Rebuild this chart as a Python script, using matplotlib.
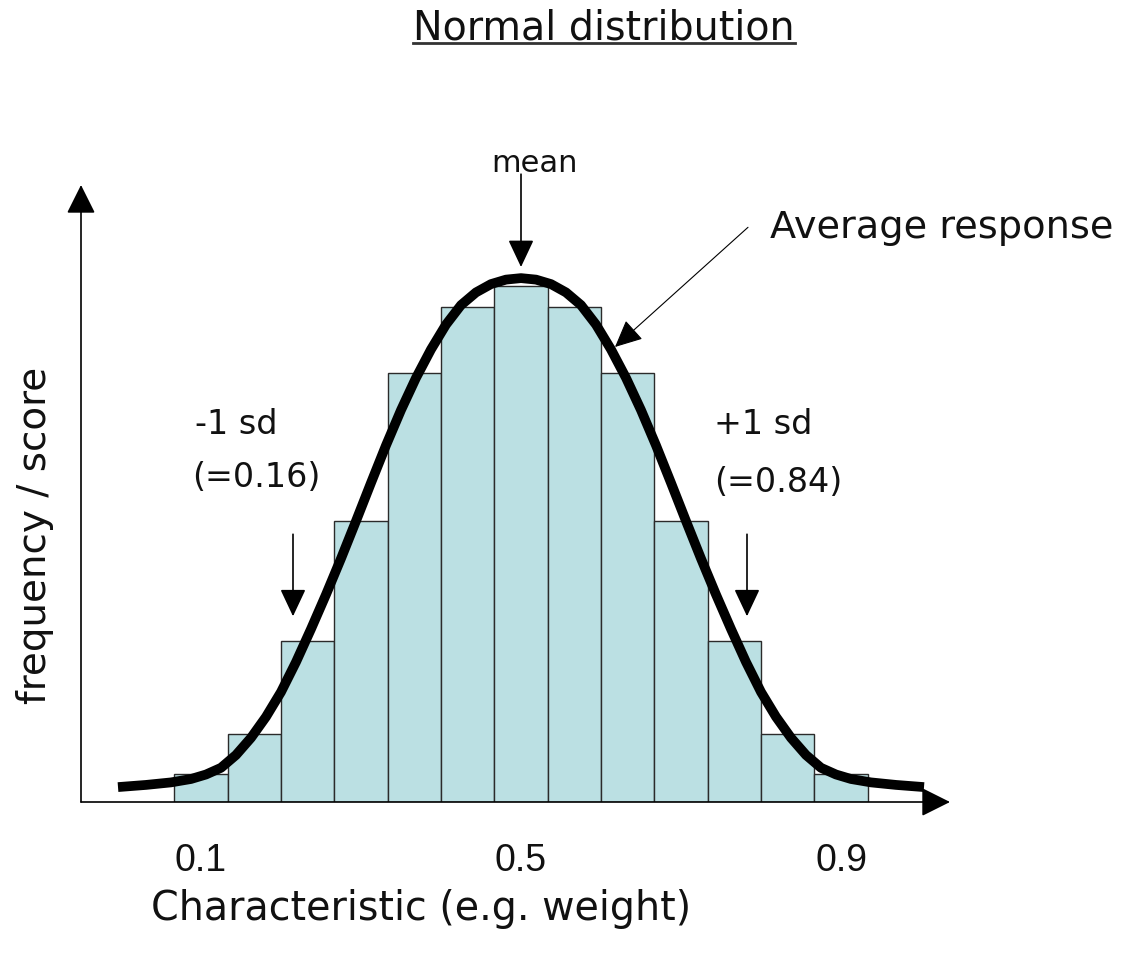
import matplotlib
matplotlib.use("Agg")
import matplotlib.pyplot as plt
from matplotlib.lines import Line2D

# ---------------- data ----------------
bin_centers = [0.100, 0.1667, 0.2333, 0.300, 0.3667, 0.4333, 0.500,
               0.5667, 0.6333, 0.700, 0.7667, 0.8333, 0.900]
bin_width = 0.0667
frequencies = [5.4, 13.2, 31.2, 54.5, 83.1, 95.9, 100.0,
               95.9, 83.1, 54.5, 31.2, 13.2, 5.4]

# "Average response" curve
curve_x = [-0.00375, 0.03125, 0.0625, 0.0875, 0.10625, 0.125, 0.14375,
           0.1625, 0.18125, 0.2, 0.21875, 0.2375, 0.25625, 0.275, 0.29375,
           0.3125, 0.33125, 0.35, 0.36875, 0.3875, 0.40625, 0.425, 0.44375,
           0.4625, 0.48125, 0.5,
           0.51875, 0.5375, 0.55625, 0.575, 0.59375, 0.6125, 0.63125, 0.65,
           0.66875, 0.6875, 0.70625, 0.725, 0.74375, 0.7625, 0.78125, 0.8,
           0.81875, 0.8375, 0.85625, 0.875, 0.89375, 0.9125, 0.9375, 0.96875,
           1.00375]
curve_y = [2.89, 3.31, 3.80, 4.46, 5.33, 6.63, 9.11,
           12.44, 16.51, 21.32, 27.13, 33.53, 40.21, 47.19, 54.46,
           61.86, 69.13, 75.97, 82.21, 87.73, 92.54, 96.32, 98.78,
           100.39, 101.26, 101.55,
           101.26, 100.39, 98.78, 96.32, 92.54, 87.73, 82.21, 75.97,
           69.13, 61.86, 54.46, 47.19, 40.21, 33.53, 27.13, 21.32,
           16.51, 12.44, 9.11, 6.63, 5.33, 4.46, 3.80, 3.31,
           2.89]

tick_values = [0.1, 0.5, 0.9]
tick_labels = ["0.1", "0.5", "0.9"]

title_text = "Normal distribution"
x_label = "Characteristic (e.g. weight)"
y_label = "frequency / score"

# ---------------- figure ----------------
W, H = 1125, 954
fig = plt.figure(figsize=(W / 100, H / 100), dpi=100)
fig.patch.set_facecolor("white")
plt.rcParams['font.family'] = ['DejaVu Sans']

ax = fig.add_axes([81 / W, 151 / H, 869 / W, 617 / H])
ax.set_xlim(-0.05, 1.03625)
ax.set_ylim(0, 119.6)
for s in ax.spines.values():
    s.set_visible(False)
ax.set_yticks([])
ax.set_xticks(tick_values)
ax.set_xticklabels(tick_labels, fontsize=27, color="#111111",
                   family=["Liberation Sans", "DejaVu Sans"])
ax.tick_params(axis="x", length=0, pad=29)

# bars
ax.bar(bin_centers, frequencies, width=bin_width, color="#BBE0E3",
       edgecolor="#2b2b2b", linewidth=1.0, zorder=2)

# curve
ax.plot(curve_x, curve_y, color="black", linewidth=7, zorder=3,
        solid_capstyle="butt", solid_joinstyle="round", clip_on=False)

# axes arrows
axis_arrow = dict(arrowstyle="-|>,head_length=0.9,head_width=0.45",
                  mutation_scale=20, color="black", linewidth=1.2,
                  shrinkA=0, shrinkB=0)
ax.annotate("", xy=(1, 0), xytext=(0, 0), xycoords="axes fraction",
            textcoords="axes fraction", arrowprops=axis_arrow,
            annotation_clip=False, zorder=4)
ax.annotate("", xy=(0, 1), xytext=(0, 0), xycoords="axes fraction",
            textcoords="axes fraction", arrowprops=axis_arrow,
            annotation_clip=False, zorder=4)

# labels
ax.set_xlabel(x_label, fontsize=28.5, color="#111111")
ax.xaxis.set_label_coords((421 - 81) / 869, -(909 - 803) / 617)
ax.xaxis.label.set_va("center")
ax.set_ylabel(y_label, fontsize=28, color="#111111", va="center", ha="center")
ax.yaxis.set_label_coords((35 - 81) / 869, (803 - 535) / 617)

# annotation arrows
small_arrow = dict(arrowstyle="-|>,head_length=0.85,head_width=0.4",
                   mutation_scale=20, color="black", linewidth=1.2,
                   shrinkA=0, shrinkB=0)
ax.annotate("", xy=(0.5, 103.7), xytext=(0.5, 121.7), arrowprops=small_arrow,
            annotation_clip=False)
ax.annotate("", xy=(0.215, 36.0), xytext=(0.215, 51.9), arrowprops=small_arrow,
            annotation_clip=False)
ax.annotate("", xy=(0.7825, 36.0), xytext=(0.7825, 51.9), arrowprops=small_arrow,
            annotation_clip=False)
resp_arrow = dict(arrowstyle="-|>,head_length=0.85,head_width=0.4",
                  mutation_scale=20, color="black", linewidth=0.8,
                  shrinkA=0, shrinkB=0)
ax.annotate("", xy=(0.6175, 88.2), xytext=(0.78375, 111.4), arrowprops=resp_arrow,
            annotation_clip=False)

def fx(px):
    return px / W

def fy(py):
    return 1 - py / H

fig.text(fx(534), fy(163), "mean", fontsize=22, ha="center", va="center",
         color="#111111")
fig.text(fx(770), fy(228), "Average response", fontsize=27.5, ha="left",
         va="center", color="#111111")
fig.text(fx(195), fy(425), "-1 sd", fontsize=24, ha="left", va="center",
         color="#111111")
fig.text(fx(192), fy(478), "(=0.16)", fontsize=24, ha="left", va="center",
         color="#111111")
fig.text(fx(714), fy(425), "+1 sd", fontsize=24, ha="left", va="center",
         color="#111111")
fig.text(fx(714), fy(483), "(=0.84)", fontsize=24, ha="left", va="center",
         color="#111111")

title = fig.text(fx(604), fy(39), title_text, fontsize=28.5, ha="center",
                 va="baseline", color="#111111")

# underline for title
fig.canvas.draw()
bb = title.get_window_extent()
fig.add_artist(Line2D([bb.x0 / W, bb.x1 / W], [fy(44), fy(44)],
                      transform=fig.transFigure, color="#333333", linewidth=2))

fig.savefig("out.png", dpi=100, facecolor="white")
